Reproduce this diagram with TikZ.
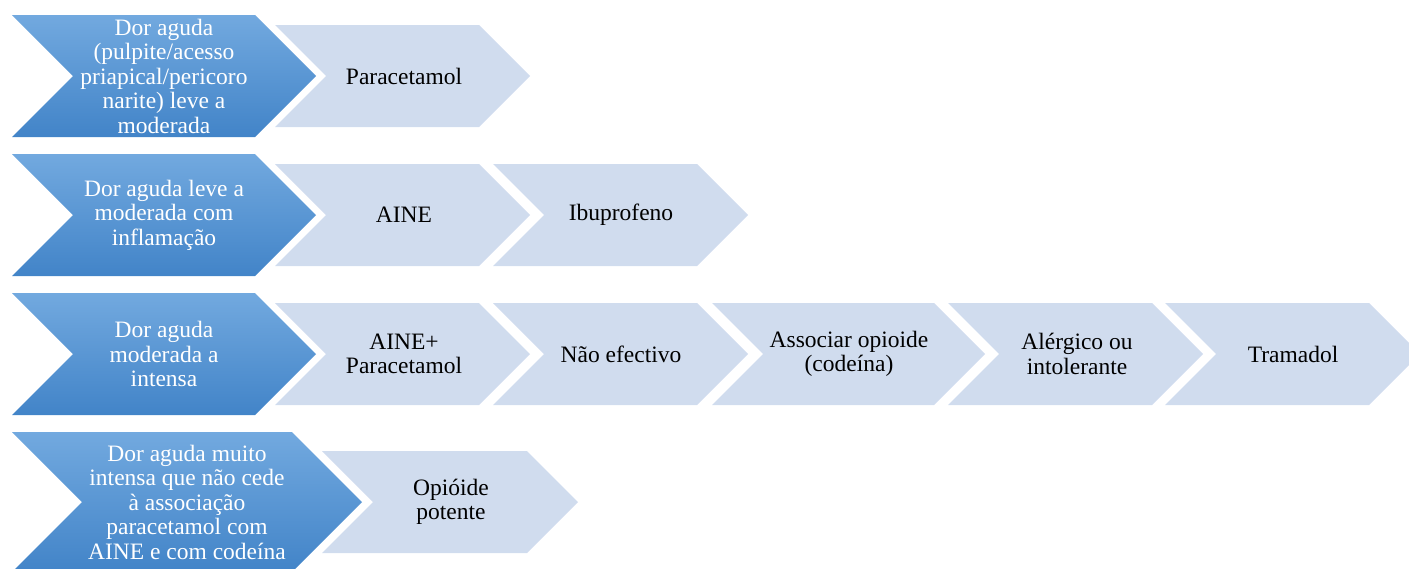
\documentclass[tikz,border=0pt]{standalone}
\usepackage{fontspec}
\setmainfont{Liberation Serif}

\definecolor{stageTop}{HTML}{72A9DF}
\definecolor{stageBot}{HTML}{4284C8}
\definecolor{stepFill}{HTML}{D0DCEE}

\tikzset{
  stageshape/.style={top color=stageTop, bottom color=stageBot, draw=none},
  stepshape/.style={fill=stepFill, draw=none},
  stagetext/.style={text=white, align=center, inner sep=0pt,
    font=\fontsize{23.5}{24.5}\selectfont},
  steptext/.style={text=black, align=center, inner sep=0pt,
    font=\fontsize{23.5}{24.5}\selectfont},
}

% chevron: style, left x, tip x, centre y, half height (45 degree slopes)
\newcommand\chevronpath[5]{%
  \path[#1] (#2,#4-#5) -- (#3-#5,#4-#5) -- (#3,#4) -- (#3-#5,#4+#5)
    -- (#2,#4+#5) -- (#2+#5,#4) -- cycle;}

\begin{document}
\begin{tikzpicture}[x=1pt, y=-1pt]
  \useasboundingbox (0,0) rectangle (1409,568);
  \clip (0,0) rectangle (1409,568);

  % row 1
  \chevronpath{stageshape}{12}{316}{76}{61}
  \chevronpath{stepshape}{275}{530}{76}{51}
  \node[stagetext] (s1) at (164,76) {Dor aguda\\(pulpite/acesso\\priapical/pericoro\\narite) leve a\\moderada};
  \node[steptext] (p1) at (404,76) {Paracetamol};

  % row 2
  \chevronpath{stageshape}{12}{316}{215}{61}
  \chevronpath{stepshape}{275}{530}{215}{51}
  \chevronpath{stepshape}{493}{748}{215}{51}
  \node[stagetext] (s2) at (164,215) {Dor aguda leve a\\moderada com\\inflamação};
  \node[steptext] (p2a) at (404,215) {AINE};
  \node[steptext] (p2b) at (621,215) {Ibuprofeno};

  % row 3
  \chevronpath{stageshape}{12}{316}{354}{61}
  \chevronpath{stepshape}{275}{530}{354}{51}
  \chevronpath{stepshape}{493}{748}{354}{51}
  \chevronpath{stepshape}{712}{985}{354}{51}
  \chevronpath{stepshape}{948}{1203}{354}{51}
  \chevronpath{stepshape}{1165}{1420}{354}{51}
  \node[stagetext] (s3) at (164,354) {Dor aguda\\moderada a\\intensa};
  \node[steptext] (p3a) at (404,354) {AINE+\\Paracetamol};
  \node[steptext] (p3b) at (621,354) {Não efectivo};
  \node[steptext] (p3c) at (849,354) {Associar opioide\\(codeína)};
  \node[steptext] (p3d) at (1077,354) {Alérgico ou\\intolerante};
  \node[steptext] (p3e) at (1293,354) {Tramadol};

  % row 4
  \chevronpath{stageshape}{12}{362}{502}{70}
  \chevronpath{stepshape}{322}{578}{502}{51}
  \node[stagetext] (s4) at (187,502) {Dor aguda muito\\intensa que não cede\\à associação\\paracetamol com\\AINE e com codeína};
  \node[steptext] (p4) at (451,502) {Opióide\\potente};
\end{tikzpicture}
\end{document}
